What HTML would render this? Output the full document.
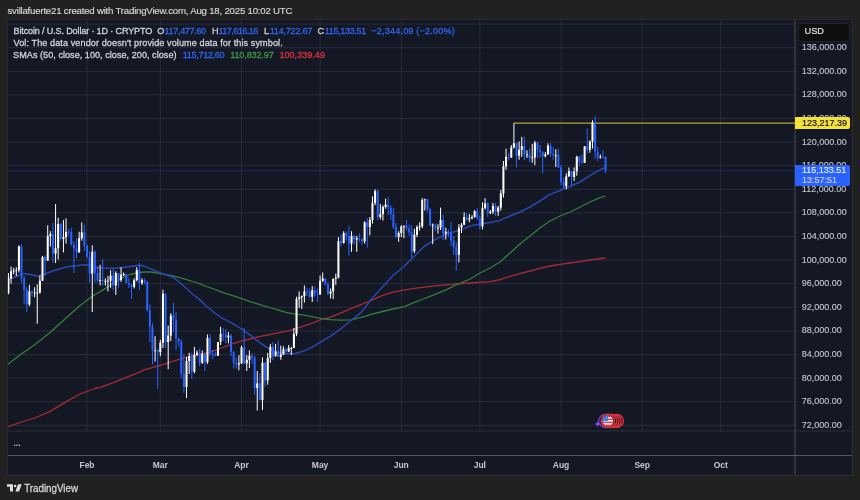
<!DOCTYPE html>
<html><head><meta charset="utf-8"><style>
html,body{margin:0;padding:0;}
body{width:860px;height:500px;background:#212121;position:relative;overflow:hidden;font-family:"Liberation Sans",Arial,sans-serif;color:#d1d4dc;}
.a{position:absolute;white-space:nowrap;}
#hdr{left:8px;top:5px;font-size:9.6px;color:#d6d6d6;}
#panel{position:absolute;left:7.8px;top:19.9px;width:843.9000000000001px;height:455.1px;background:#141824;}
svg{position:absolute;left:0;top:0;}
.lg{position:absolute;left:13.5px;font-size:9px;color:#d1d4dc;}
.pl{position:absolute;left:801.8px;width:50px;font-size:9px;color:#c4c7ce;line-height:12px;-webkit-text-stroke:0.12px #c4c7ce;}
.tl{position:absolute;top:459.3px;width:40px;text-align:center;font-size:8.5px;font-weight:bold;color:#c5c8cf;line-height:12px;}
.bl{color:#2962ff} .gr{color:#43a047} .rd{color:#f23645}
#usd{position:absolute;left:797.5px;top:22.5px;width:52px;height:19px;box-sizing:border-box;background:#0f0f0f;border:1px solid #242424;border-radius:4px;}
#usd span{position:absolute;left:6px;top:1.5px;font-size:9.2px;color:#e0e0e0;line-height:12px;-webkit-text-stroke:0.2px #e0e0e0;}
.tag{position:absolute;left:795px;width:55px;font-size:9px;padding-left:7px;box-sizing:border-box;line-height:11.5px;border-radius:0 2px 2px 0;}
#foot{left:24.3px;top:482.5px;font-size:9.6px;color:#d0d0d0;}
</style></head><body>
<svg width="860" height="500" viewBox="0 0 860 500"><rect x="7" y="19.1" width="846" height="457" rx="1.5" fill="#2a2b2e"/><rect x="7.8" y="19.9" width="843.9" height="455.1" fill="#141824"/></svg>
<svg width="860" height="500" viewBox="0 0 860 500">
<defs><clipPath id="cp"><rect x="7.8" y="19.9" width="787.2" height="411.1"/></clipPath></defs>
<g clip-path="url(#cp)">
<line x1="7.8" x2="795.0" y1="425.3" y2="425.3" stroke="#282c3a" stroke-width="1"/>
<line x1="7.8" x2="795.0" y1="401.7" y2="401.7" stroke="#282c3a" stroke-width="1"/>
<line x1="7.8" x2="795.0" y1="378.1" y2="378.1" stroke="#282c3a" stroke-width="1"/>
<line x1="7.8" x2="795.0" y1="354.5" y2="354.5" stroke="#282c3a" stroke-width="1"/>
<line x1="7.8" x2="795.0" y1="330.9" y2="330.9" stroke="#282c3a" stroke-width="1"/>
<line x1="7.8" x2="795.0" y1="307.3" y2="307.3" stroke="#282c3a" stroke-width="1"/>
<line x1="7.8" x2="795.0" y1="283.7" y2="283.7" stroke="#282c3a" stroke-width="1"/>
<line x1="7.8" x2="795.0" y1="260.1" y2="260.1" stroke="#282c3a" stroke-width="1"/>
<line x1="7.8" x2="795.0" y1="236.5" y2="236.5" stroke="#282c3a" stroke-width="1"/>
<line x1="7.8" x2="795.0" y1="212.9" y2="212.9" stroke="#282c3a" stroke-width="1"/>
<line x1="7.8" x2="795.0" y1="189.3" y2="189.3" stroke="#282c3a" stroke-width="1"/>
<line x1="7.8" x2="795.0" y1="165.7" y2="165.7" stroke="#282c3a" stroke-width="1"/>
<line x1="7.8" x2="795.0" y1="142.1" y2="142.1" stroke="#282c3a" stroke-width="1"/>
<line x1="7.8" x2="795.0" y1="118.5" y2="118.5" stroke="#282c3a" stroke-width="1"/>
<line x1="7.8" x2="795.0" y1="94.9" y2="94.9" stroke="#282c3a" stroke-width="1"/>
<line x1="7.8" x2="795.0" y1="71.3" y2="71.3" stroke="#282c3a" stroke-width="1"/>
<line x1="7.8" x2="795.0" y1="47.7" y2="47.7" stroke="#282c3a" stroke-width="1"/>
<line x1="7.8" x2="795.0" y1="24.1" y2="24.1" stroke="#282c3a" stroke-width="1"/>
<line x1="87" x2="87" y1="19.9" y2="431" stroke="#282c3a" stroke-width="1"/>
<line x1="160.33" x2="160.33" y1="19.9" y2="431" stroke="#282c3a" stroke-width="1"/>
<line x1="241.52" x2="241.52" y1="19.9" y2="431" stroke="#282c3a" stroke-width="1"/>
<line x1="320.09" x2="320.09" y1="19.9" y2="431" stroke="#282c3a" stroke-width="1"/>
<line x1="401.28" x2="401.28" y1="19.9" y2="431" stroke="#282c3a" stroke-width="1"/>
<line x1="479.85" x2="479.85" y1="19.9" y2="431" stroke="#282c3a" stroke-width="1"/>
<line x1="561.04" x2="561.04" y1="19.9" y2="431" stroke="#282c3a" stroke-width="1"/>
<line x1="642.23" x2="642.23" y1="19.9" y2="431" stroke="#282c3a" stroke-width="1"/>
<line x1="720.8" x2="720.8" y1="19.9" y2="431" stroke="#282c3a" stroke-width="1"/>
<polyline points="7.5,427 20,422.5 35,418 50,411.4 65,402.4 80,394 95,388.5 100,387.3 112.8,382.8 125.6,377.7 138.4,372.6 144.8,369.7 151.2,367.9 157.5,366.2 163.9,364.3 170.3,362 176.7,360.1 183.1,358.2 189.5,356.6 195.9,355.1 202.3,353.8 208.7,352.5 214,350.6 223,347.5 232,343.9 241,341.2 250,339 259,336.7 268,334.9 277,333.1 286,331.3 295,329 304,325.9 313,322.8 322,319.2 330,317.4 340.5,313.2 351,308.6 361.5,304.4 372,300.2 382.5,295.3 393,292.2 403.5,290.1 414,288.4 424.5,287.2 435,285.9 445.5,284.8 456,283.8 470,283 490,281.6 500,279.6 510,276.4 520,273.6 530,271 540,268.4 550,266 560,264.4 570,263 580,261.6 590,260 605.6,258" fill="none" stroke="#a82a36" stroke-width="1.3" stroke-linejoin="round"/>
<polyline points="7.5,364.6 20,355 35,344.5 50,332.5 65,319 80,305.5 95,294.5 102,290.6 109,286 115.9,282.2 122.9,277.3 129.9,274.5 136.8,272.9 143.8,272 150.8,272 157.8,273.1 164.7,274.5 171.7,275.6 178.7,277.3 185.7,279.4 192.6,281.5 199.6,283.6 205,286 214,289 223,292.6 232,295.3 241,298.4 250,301.6 259,304.3 268,307 277,309.7 286,312.4 295,314.2 304,315.1 313,316.9 322,318.7 330,319.6 340.5,320.1 351,319.9 361.5,317.4 372,314.2 382.5,311.5 393,309 403.5,306.9 414,302.7 424.5,298.5 435,294.3 445.5,290.1 456,284.8 460,283.3 470,279 480,273 490,268 500,262 510,253 520,244 530,236 540,228 550,221 560,216 570,212 580,207 590,202 600,197.6 605.6,196" fill="none" stroke="#33803a" stroke-width="1.3" stroke-linejoin="round"/>
<polyline points="7.5,279.2 11.7,278.3 16.3,276.5 21,274.2 24.4,273.6 30.3,274.5 36.1,275.7 39.6,275.9 44.2,274.2 53.5,270.7 59.3,269 65.1,267.2 70,266.6 77,265.8 84,264.7 88,264.9 92,266.3 96.6,267.5 104,268.1 112,268.2 123,267.6 130,266.6 136.8,265.5 142.4,265.5 148,267.6 153.6,270.3 160.6,272.9 167.5,275.2 173.1,277.3 178.7,281.5 185.7,287.8 192.6,294 199.6,299.6 205,305 210,309 214,312.5 223,318.7 232,323.2 241,328.6 250,334.9 259,342.1 268,348 277,352 286,353.8 295,353.4 304,351.1 313,346.6 322,341.2 331,335.8 340.5,329 351,320.5 361.5,312.1 372,298.5 382.5,287 393,275.4 403.5,267 414,256.5 424.5,246 435,239.7 445.5,234.5 456,231.3 464,228.6 470,226 480,224 490,222.4 500,220.4 510,216 520,212 530,207 540,201 550,194.4 560,190.5 570,186.5 580,182 590,175.6 597.8,170.9 605.6,167.3" fill="none" stroke="#2848b4" stroke-width="1.5" stroke-linejoin="round"/>
<line x1="513.9" x2="795.0" y1="123.12" y2="123.12" stroke="#b8a336" stroke-width="1.3"/>
<rect x="5.31" y="290.19" width="1" height="12.39" fill="#ffffff"/>
<rect x="4.81" y="293.14" width="2.0" height="5.9" fill="#ffffff"/>
<rect x="7.93" y="273.08" width="1" height="21.24" fill="#ffffff"/>
<rect x="7.43" y="278.39" width="2.0" height="14.75" fill="#ffffff"/>
<rect x="10.55" y="266.59" width="1" height="17.11" fill="#ffffff"/>
<rect x="10.05" y="271.31" width="2.0" height="7.08" fill="#ffffff"/>
<rect x="13.17" y="267.77" width="1" height="6.49" fill="#ffffff"/>
<rect x="12.67" y="270.72" width="2.0" height="0.8" fill="#ffffff"/>
<rect x="15.79" y="267.18" width="1" height="8.85" fill="#ffffff"/>
<rect x="15.29" y="270.13" width="2.0" height="0.8" fill="#ffffff"/>
<rect x="18.41" y="245.35" width="1" height="27.14" fill="#ffffff"/>
<rect x="17.91" y="246.53" width="2.0" height="23.6" fill="#ffffff"/>
<rect x="21.02" y="244.17" width="1" height="38.94" fill="#2962ff"/>
<rect x="20.52" y="246.53" width="2.0" height="31.86" fill="#2962ff"/>
<rect x="23.64" y="276.03" width="1" height="28.32" fill="#2962ff"/>
<rect x="23.14" y="278.39" width="2.0" height="11.21" fill="#2962ff"/>
<rect x="26.26" y="287.24" width="1" height="24.78" fill="#2962ff"/>
<rect x="25.76" y="289.6" width="2.0" height="14.75" fill="#2962ff"/>
<rect x="28.88" y="284.88" width="1" height="21.24" fill="#ffffff"/>
<rect x="28.38" y="291.37" width="2.0" height="12.98" fill="#ffffff"/>
<rect x="31.5" y="290.19" width="1" height="6.49" fill="#2962ff"/>
<rect x="31" y="291.37" width="2.0" height="1.18" fill="#2962ff"/>
<rect x="34.12" y="287.24" width="1" height="10.03" fill="#ffffff"/>
<rect x="33.62" y="292.55" width="2.0" height="0.8" fill="#ffffff"/>
<rect x="36.74" y="284.29" width="1" height="39.53" fill="#ffffff"/>
<rect x="36.24" y="292.55" width="2.0" height="0.8" fill="#ffffff"/>
<rect x="39.36" y="275.44" width="1" height="18.29" fill="#ffffff"/>
<rect x="38.86" y="280.75" width="2.0" height="11.8" fill="#ffffff"/>
<rect x="41.98" y="255.97" width="1" height="24.78" fill="#ffffff"/>
<rect x="41.48" y="257.15" width="2.0" height="23.6" fill="#ffffff"/>
<rect x="44.6" y="255.38" width="1" height="20.65" fill="#2962ff"/>
<rect x="44.1" y="257.15" width="2.0" height="3.54" fill="#2962ff"/>
<rect x="47.21" y="225.29" width="1" height="35.4" fill="#ffffff"/>
<rect x="46.71" y="235.91" width="2.0" height="24.78" fill="#ffffff"/>
<rect x="49.83" y="231.19" width="1" height="15.34" fill="#ffffff"/>
<rect x="49.33" y="234.14" width="2.0" height="1.77" fill="#ffffff"/>
<rect x="52.45" y="222.93" width="1" height="39.53" fill="#2962ff"/>
<rect x="51.95" y="234.14" width="2.0" height="19.47" fill="#2962ff"/>
<rect x="55.07" y="204.05" width="1" height="59" fill="#ffffff"/>
<rect x="54.57" y="248.3" width="2.0" height="5.31" fill="#ffffff"/>
<rect x="57.69" y="217.62" width="1" height="41.89" fill="#ffffff"/>
<rect x="57.19" y="224.11" width="2.0" height="24.19" fill="#ffffff"/>
<rect x="60.31" y="222.93" width="1" height="17.7" fill="#2962ff"/>
<rect x="59.81" y="224.11" width="2.0" height="14.75" fill="#2962ff"/>
<rect x="62.93" y="219.98" width="1" height="32.45" fill="#ffffff"/>
<rect x="62.43" y="237.09" width="2.0" height="1.77" fill="#ffffff"/>
<rect x="65.55" y="218.21" width="1" height="25.37" fill="#ffffff"/>
<rect x="65.05" y="231.78" width="2.0" height="5.31" fill="#ffffff"/>
<rect x="68.17" y="228.83" width="1" height="7.08" fill="#2962ff"/>
<rect x="67.67" y="231.78" width="2.0" height="0.8" fill="#2962ff"/>
<rect x="70.79" y="227.65" width="1" height="17.7" fill="#2962ff"/>
<rect x="70.29" y="232.37" width="2.0" height="12.39" fill="#2962ff"/>
<rect x="73.41" y="241.22" width="1" height="31.86" fill="#2962ff"/>
<rect x="72.91" y="244.76" width="2.0" height="3.54" fill="#2962ff"/>
<rect x="76.02" y="238.27" width="1" height="20.06" fill="#2962ff"/>
<rect x="75.52" y="248.3" width="2.0" height="4.13" fill="#2962ff"/>
<rect x="78.64" y="231.78" width="1" height="20.65" fill="#ffffff"/>
<rect x="78.14" y="238.27" width="2.0" height="14.16" fill="#ffffff"/>
<rect x="81.26" y="222.34" width="1" height="18.29" fill="#ffffff"/>
<rect x="80.76" y="232.37" width="2.0" height="5.9" fill="#ffffff"/>
<rect x="83.88" y="224.7" width="1" height="25.96" fill="#2962ff"/>
<rect x="83.38" y="232.37" width="2.0" height="13.57" fill="#2962ff"/>
<rect x="86.5" y="244.17" width="1" height="14.16" fill="#2962ff"/>
<rect x="86" y="245.94" width="2.0" height="10.62" fill="#2962ff"/>
<rect x="89.12" y="251.25" width="1" height="31.27" fill="#2962ff"/>
<rect x="88.62" y="256.56" width="2.0" height="17.11" fill="#2962ff"/>
<rect x="91.74" y="245.35" width="1" height="66.67" fill="#ffffff"/>
<rect x="91.24" y="251.84" width="2.0" height="21.83" fill="#ffffff"/>
<rect x="94.36" y="250.07" width="1" height="32.45" fill="#2962ff"/>
<rect x="93.86" y="251.84" width="2.0" height="21.24" fill="#2962ff"/>
<rect x="96.98" y="266" width="1" height="16.52" fill="#2962ff"/>
<rect x="96.48" y="273.08" width="2.0" height="7.08" fill="#2962ff"/>
<rect x="99.59" y="264.82" width="1" height="20.65" fill="#ffffff"/>
<rect x="99.09" y="280.16" width="2.0" height="0.8" fill="#ffffff"/>
<rect x="102.21" y="259.51" width="1" height="25.96" fill="#2962ff"/>
<rect x="101.71" y="280.16" width="2.0" height="0.8" fill="#2962ff"/>
<rect x="104.83" y="278.39" width="1" height="7.08" fill="#ffffff"/>
<rect x="104.33" y="280.75" width="2.0" height="0.8" fill="#ffffff"/>
<rect x="107.45" y="276.03" width="1" height="15.34" fill="#ffffff"/>
<rect x="106.95" y="280.75" width="2.0" height="0.8" fill="#ffffff"/>
<rect x="110.07" y="270.13" width="1" height="17.7" fill="#ffffff"/>
<rect x="109.57" y="275.44" width="2.0" height="5.31" fill="#ffffff"/>
<rect x="112.69" y="268.95" width="1" height="21.24" fill="#2962ff"/>
<rect x="112.19" y="275.44" width="2.0" height="10.03" fill="#2962ff"/>
<rect x="115.31" y="271.31" width="1" height="23.6" fill="#ffffff"/>
<rect x="114.81" y="273.08" width="2.0" height="12.39" fill="#ffffff"/>
<rect x="117.93" y="273.08" width="1" height="14.75" fill="#2962ff"/>
<rect x="117.43" y="273.08" width="2.0" height="7.08" fill="#2962ff"/>
<rect x="120.55" y="267.18" width="1" height="14.75" fill="#ffffff"/>
<rect x="120.05" y="274.85" width="2.0" height="5.31" fill="#ffffff"/>
<rect x="123.17" y="272.49" width="1" height="3.54" fill="#ffffff"/>
<rect x="122.67" y="274.26" width="2.0" height="0.8" fill="#ffffff"/>
<rect x="125.78" y="273.67" width="1" height="9.44" fill="#2962ff"/>
<rect x="125.28" y="274.26" width="2.0" height="8.85" fill="#2962ff"/>
<rect x="128.4" y="277.8" width="1" height="10.03" fill="#2962ff"/>
<rect x="127.9" y="283.11" width="2.0" height="1.77" fill="#2962ff"/>
<rect x="131.02" y="283.7" width="1" height="15.34" fill="#2962ff"/>
<rect x="130.52" y="284.88" width="2.0" height="1.77" fill="#2962ff"/>
<rect x="133.64" y="278.39" width="1" height="10.03" fill="#ffffff"/>
<rect x="133.14" y="280.16" width="2.0" height="6.49" fill="#ffffff"/>
<rect x="136.26" y="267.18" width="1" height="14.16" fill="#ffffff"/>
<rect x="135.76" y="270.13" width="2.0" height="10.03" fill="#ffffff"/>
<rect x="138.88" y="263.05" width="1" height="27.14" fill="#2962ff"/>
<rect x="138.38" y="270.13" width="2.0" height="12.98" fill="#2962ff"/>
<rect x="141.5" y="278.39" width="1" height="6.49" fill="#ffffff"/>
<rect x="141" y="280.16" width="2.0" height="2.95" fill="#ffffff"/>
<rect x="144.12" y="278.39" width="1" height="5.9" fill="#2962ff"/>
<rect x="143.62" y="280.16" width="2.0" height="1.77" fill="#2962ff"/>
<rect x="146.74" y="280.75" width="1" height="30.68" fill="#2962ff"/>
<rect x="146.24" y="281.93" width="2.0" height="28.32" fill="#2962ff"/>
<rect x="149.36" y="304.35" width="1" height="37.76" fill="#2962ff"/>
<rect x="148.86" y="310.25" width="2.0" height="16.52" fill="#2962ff"/>
<rect x="151.98" y="323.23" width="1" height="41.3" fill="#2962ff"/>
<rect x="151.48" y="326.77" width="2.0" height="23.6" fill="#2962ff"/>
<rect x="154.59" y="336.21" width="1" height="25.37" fill="#ffffff"/>
<rect x="154.09" y="350.37" width="2.0" height="0.8" fill="#ffffff"/>
<rect x="157.21" y="348.6" width="1" height="40.12" fill="#2962ff"/>
<rect x="156.71" y="350.37" width="2.0" height="1.77" fill="#2962ff"/>
<rect x="159.83" y="339.75" width="1" height="16.52" fill="#ffffff"/>
<rect x="159.33" y="342.7" width="2.0" height="9.44" fill="#ffffff"/>
<rect x="162.45" y="289.6" width="1" height="58.41" fill="#ffffff"/>
<rect x="161.95" y="293.73" width="2.0" height="48.97" fill="#ffffff"/>
<rect x="165.07" y="293.14" width="1" height="54.87" fill="#2962ff"/>
<rect x="164.57" y="293.73" width="2.0" height="48.38" fill="#2962ff"/>
<rect x="167.69" y="325.59" width="1" height="43.66" fill="#ffffff"/>
<rect x="167.19" y="335.62" width="2.0" height="6.49" fill="#ffffff"/>
<rect x="170.31" y="313.2" width="1" height="27.73" fill="#ffffff"/>
<rect x="169.81" y="315.56" width="2.0" height="20.06" fill="#ffffff"/>
<rect x="172.93" y="302.58" width="1" height="29.5" fill="#2962ff"/>
<rect x="172.43" y="315.56" width="2.0" height="4.13" fill="#2962ff"/>
<rect x="175.55" y="312.02" width="1" height="38.35" fill="#2962ff"/>
<rect x="175.05" y="319.69" width="2.0" height="18.88" fill="#2962ff"/>
<rect x="178.17" y="337.98" width="1" height="8.85" fill="#2962ff"/>
<rect x="177.67" y="338.57" width="2.0" height="2.95" fill="#2962ff"/>
<rect x="180.78" y="339.75" width="1" height="38.35" fill="#2962ff"/>
<rect x="180.28" y="341.52" width="2.0" height="32.45" fill="#2962ff"/>
<rect x="183.4" y="354.5" width="1" height="38.35" fill="#2962ff"/>
<rect x="182.9" y="373.97" width="2.0" height="12.98" fill="#2962ff"/>
<rect x="186.02" y="356.86" width="1" height="41.3" fill="#ffffff"/>
<rect x="185.52" y="360.99" width="2.0" height="25.96" fill="#ffffff"/>
<rect x="188.64" y="352.73" width="1" height="21.24" fill="#ffffff"/>
<rect x="188.14" y="356.27" width="2.0" height="4.72" fill="#ffffff"/>
<rect x="191.26" y="352.73" width="1" height="25.96" fill="#2962ff"/>
<rect x="190.76" y="356.27" width="2.0" height="15.34" fill="#2962ff"/>
<rect x="193.88" y="346.83" width="1" height="26.55" fill="#ffffff"/>
<rect x="193.38" y="354.5" width="2.0" height="17.11" fill="#ffffff"/>
<rect x="196.5" y="350.37" width="1" height="5.9" fill="#ffffff"/>
<rect x="196" y="352.73" width="2.0" height="1.77" fill="#ffffff"/>
<rect x="199.12" y="348.6" width="1" height="17.7" fill="#2962ff"/>
<rect x="198.62" y="352.73" width="2.0" height="10.03" fill="#2962ff"/>
<rect x="201.74" y="350.37" width="1" height="13.57" fill="#ffffff"/>
<rect x="201.24" y="353.91" width="2.0" height="8.85" fill="#ffffff"/>
<rect x="204.36" y="353.91" width="1" height="17.11" fill="#2962ff"/>
<rect x="203.86" y="353.91" width="2.0" height="8.26" fill="#2962ff"/>
<rect x="206.97" y="334.44" width="1" height="29.5" fill="#ffffff"/>
<rect x="206.47" y="337.98" width="2.0" height="24.19" fill="#ffffff"/>
<rect x="209.59" y="334.44" width="1" height="21.83" fill="#2962ff"/>
<rect x="209.09" y="337.98" width="2.0" height="15.34" fill="#2962ff"/>
<rect x="212.21" y="349.78" width="1" height="9.44" fill="#2962ff"/>
<rect x="211.71" y="353.32" width="2.0" height="1.18" fill="#2962ff"/>
<rect x="214.83" y="351.55" width="1" height="4.72" fill="#2962ff"/>
<rect x="214.33" y="354.5" width="2.0" height="1.18" fill="#2962ff"/>
<rect x="217.45" y="342.11" width="1" height="13.57" fill="#ffffff"/>
<rect x="216.95" y="342.11" width="2.0" height="13.57" fill="#ffffff"/>
<rect x="220.07" y="326.77" width="1" height="18.29" fill="#ffffff"/>
<rect x="219.57" y="333.85" width="2.0" height="8.26" fill="#ffffff"/>
<rect x="222.69" y="327.95" width="1" height="12.98" fill="#2962ff"/>
<rect x="222.19" y="333.85" width="2.0" height="0.8" fill="#2962ff"/>
<rect x="225.31" y="329.13" width="1" height="14.16" fill="#2962ff"/>
<rect x="224.81" y="334.44" width="2.0" height="2.95" fill="#2962ff"/>
<rect x="227.93" y="332.08" width="1" height="11.21" fill="#ffffff"/>
<rect x="227.43" y="335.62" width="2.0" height="1.77" fill="#ffffff"/>
<rect x="230.55" y="333.85" width="1" height="22.42" fill="#2962ff"/>
<rect x="230.05" y="335.62" width="2.0" height="16.52" fill="#2962ff"/>
<rect x="233.16" y="350.96" width="1" height="17.7" fill="#2962ff"/>
<rect x="232.66" y="352.14" width="2.0" height="10.62" fill="#2962ff"/>
<rect x="235.78" y="357.45" width="1" height="11.21" fill="#2962ff"/>
<rect x="235.28" y="362.76" width="2.0" height="1.77" fill="#2962ff"/>
<rect x="238.4" y="355.09" width="1" height="15.34" fill="#ffffff"/>
<rect x="237.9" y="363.35" width="2.0" height="1.18" fill="#ffffff"/>
<rect x="241.02" y="345.65" width="1" height="18.29" fill="#ffffff"/>
<rect x="240.52" y="347.42" width="2.0" height="15.93" fill="#ffffff"/>
<rect x="243.64" y="327.95" width="1" height="36.58" fill="#2962ff"/>
<rect x="243.14" y="347.42" width="2.0" height="15.93" fill="#2962ff"/>
<rect x="246.26" y="355.09" width="1" height="15.93" fill="#ffffff"/>
<rect x="245.76" y="359.81" width="2.0" height="3.54" fill="#ffffff"/>
<rect x="248.88" y="350.37" width="1" height="17.7" fill="#ffffff"/>
<rect x="248.38" y="355.68" width="2.0" height="4.13" fill="#ffffff"/>
<rect x="251.5" y="353.32" width="1" height="10.62" fill="#2962ff"/>
<rect x="251" y="355.68" width="2.0" height="1.77" fill="#2962ff"/>
<rect x="254.12" y="355.68" width="1" height="38.94" fill="#2962ff"/>
<rect x="253.62" y="357.45" width="2.0" height="30.68" fill="#2962ff"/>
<rect x="256.74" y="371.02" width="1" height="39.53" fill="#ffffff"/>
<rect x="256.24" y="383.41" width="2.0" height="4.72" fill="#ffffff"/>
<rect x="259.35" y="373.38" width="1" height="27.14" fill="#2962ff"/>
<rect x="258.85" y="383.41" width="2.0" height="16.52" fill="#2962ff"/>
<rect x="261.97" y="357.45" width="1" height="52.51" fill="#ffffff"/>
<rect x="261.47" y="362.76" width="2.0" height="37.17" fill="#ffffff"/>
<rect x="264.59" y="362.17" width="1" height="24.78" fill="#2962ff"/>
<rect x="264.09" y="362.76" width="2.0" height="17.7" fill="#2962ff"/>
<rect x="267.21" y="352.73" width="1" height="31.86" fill="#ffffff"/>
<rect x="266.71" y="358.04" width="2.0" height="22.42" fill="#ffffff"/>
<rect x="269.83" y="343.88" width="1" height="18.88" fill="#ffffff"/>
<rect x="269.33" y="346.83" width="2.0" height="11.21" fill="#ffffff"/>
<rect x="272.45" y="342.11" width="1" height="18.29" fill="#2962ff"/>
<rect x="271.95" y="346.83" width="2.0" height="9.44" fill="#2962ff"/>
<rect x="275.07" y="343.88" width="1" height="12.39" fill="#ffffff"/>
<rect x="274.57" y="351.55" width="2.0" height="4.72" fill="#ffffff"/>
<rect x="277.69" y="340.34" width="1" height="16.52" fill="#2962ff"/>
<rect x="277.19" y="351.55" width="2.0" height="5.31" fill="#2962ff"/>
<rect x="280.31" y="345.65" width="1" height="14.16" fill="#ffffff"/>
<rect x="279.81" y="354.5" width="2.0" height="2.36" fill="#ffffff"/>
<rect x="282.93" y="346.24" width="1" height="8.85" fill="#ffffff"/>
<rect x="282.43" y="349.19" width="2.0" height="5.31" fill="#ffffff"/>
<rect x="285.54" y="348.01" width="1" height="4.72" fill="#2962ff"/>
<rect x="285.04" y="349.19" width="2.0" height="2.36" fill="#2962ff"/>
<rect x="288.16" y="345.06" width="1" height="7.08" fill="#ffffff"/>
<rect x="287.66" y="348.01" width="2.0" height="3.54" fill="#ffffff"/>
<rect x="290.78" y="346.83" width="1" height="8.26" fill="#ffffff"/>
<rect x="290.28" y="348.01" width="2.0" height="0.8" fill="#ffffff"/>
<rect x="293.4" y="327.95" width="1" height="20.06" fill="#ffffff"/>
<rect x="292.9" y="333.85" width="2.0" height="14.16" fill="#ffffff"/>
<rect x="296.02" y="296.68" width="1" height="39.53" fill="#ffffff"/>
<rect x="295.52" y="299.04" width="2.0" height="34.81" fill="#ffffff"/>
<rect x="298.64" y="291.37" width="1" height="16.52" fill="#ffffff"/>
<rect x="298.14" y="297.27" width="2.0" height="1.77" fill="#ffffff"/>
<rect x="301.26" y="295.5" width="1" height="13.57" fill="#ffffff"/>
<rect x="300.76" y="296.09" width="2.0" height="1.18" fill="#ffffff"/>
<rect x="303.88" y="285.47" width="1" height="17.11" fill="#ffffff"/>
<rect x="303.38" y="291.37" width="2.0" height="4.72" fill="#ffffff"/>
<rect x="306.5" y="287.83" width="1" height="8.26" fill="#2962ff"/>
<rect x="306" y="291.37" width="2.0" height="0.8" fill="#2962ff"/>
<rect x="309.12" y="288.42" width="1" height="9.44" fill="#2962ff"/>
<rect x="308.62" y="291.96" width="2.0" height="4.72" fill="#2962ff"/>
<rect x="311.73" y="286.06" width="1" height="15.93" fill="#ffffff"/>
<rect x="311.23" y="290.19" width="2.0" height="6.49" fill="#ffffff"/>
<rect x="314.35" y="286.65" width="1" height="10.03" fill="#2962ff"/>
<rect x="313.85" y="290.19" width="2.0" height="3.54" fill="#2962ff"/>
<rect x="316.97" y="288.42" width="1" height="13.57" fill="#2962ff"/>
<rect x="316.47" y="293.73" width="2.0" height="0.8" fill="#2962ff"/>
<rect x="319.59" y="275.44" width="1" height="19.47" fill="#ffffff"/>
<rect x="319.09" y="280.75" width="2.0" height="13.57" fill="#ffffff"/>
<rect x="322.21" y="272.49" width="1" height="9.44" fill="#ffffff"/>
<rect x="321.71" y="278.39" width="2.0" height="2.36" fill="#ffffff"/>
<rect x="324.83" y="278.39" width="1" height="7.08" fill="#2962ff"/>
<rect x="324.33" y="278.39" width="2.0" height="5.9" fill="#2962ff"/>
<rect x="327.45" y="281.93" width="1" height="12.98" fill="#2962ff"/>
<rect x="326.95" y="284.29" width="2.0" height="9.44" fill="#2962ff"/>
<rect x="330.07" y="288.42" width="1" height="10.03" fill="#ffffff"/>
<rect x="329.57" y="291.37" width="2.0" height="2.36" fill="#ffffff"/>
<rect x="332.69" y="278.39" width="1" height="20.65" fill="#ffffff"/>
<rect x="332.19" y="278.98" width="2.0" height="12.39" fill="#ffffff"/>
<rect x="335.31" y="273.67" width="1" height="11.21" fill="#ffffff"/>
<rect x="334.81" y="277.8" width="2.0" height="1.18" fill="#ffffff"/>
<rect x="337.92" y="237.09" width="1" height="41.3" fill="#ffffff"/>
<rect x="337.42" y="241.22" width="2.0" height="36.58" fill="#ffffff"/>
<rect x="340.54" y="234.73" width="1" height="11.8" fill="#2962ff"/>
<rect x="340.04" y="241.22" width="2.0" height="1.77" fill="#2962ff"/>
<rect x="343.16" y="231.19" width="1" height="12.39" fill="#ffffff"/>
<rect x="342.66" y="232.96" width="2.0" height="10.03" fill="#ffffff"/>
<rect x="345.78" y="231.19" width="1" height="9.44" fill="#2962ff"/>
<rect x="345.28" y="232.96" width="2.0" height="2.95" fill="#2962ff"/>
<rect x="348.4" y="225.88" width="1" height="29.5" fill="#2962ff"/>
<rect x="347.9" y="235.91" width="2.0" height="7.67" fill="#2962ff"/>
<rect x="351.02" y="231.19" width="1" height="20.65" fill="#ffffff"/>
<rect x="350.52" y="235.91" width="2.0" height="7.67" fill="#ffffff"/>
<rect x="353.64" y="234.73" width="1" height="10.03" fill="#2962ff"/>
<rect x="353.14" y="235.91" width="2.0" height="3.54" fill="#2962ff"/>
<rect x="356.26" y="235.91" width="1" height="15.93" fill="#ffffff"/>
<rect x="355.76" y="238.27" width="2.0" height="1.18" fill="#ffffff"/>
<rect x="358.88" y="233.55" width="1" height="8.26" fill="#2962ff"/>
<rect x="358.38" y="238.27" width="2.0" height="1.18" fill="#2962ff"/>
<rect x="361.5" y="238.27" width="1" height="6.49" fill="#2962ff"/>
<rect x="361" y="239.45" width="2.0" height="1.77" fill="#2962ff"/>
<rect x="364.11" y="221.16" width="1" height="22.42" fill="#ffffff"/>
<rect x="363.61" y="222.34" width="2.0" height="18.88" fill="#ffffff"/>
<rect x="366.73" y="218.21" width="1" height="29.5" fill="#2962ff"/>
<rect x="366.23" y="222.34" width="2.0" height="4.72" fill="#2962ff"/>
<rect x="369.35" y="217.03" width="1" height="18.29" fill="#ffffff"/>
<rect x="368.85" y="219.98" width="2.0" height="7.08" fill="#ffffff"/>
<rect x="371.97" y="196.38" width="1" height="27.14" fill="#ffffff"/>
<rect x="371.47" y="202.87" width="2.0" height="17.11" fill="#ffffff"/>
<rect x="374.59" y="189.3" width="1" height="15.93" fill="#ffffff"/>
<rect x="374.09" y="191.07" width="2.0" height="11.8" fill="#ffffff"/>
<rect x="377.21" y="189.89" width="1" height="30.09" fill="#2962ff"/>
<rect x="376.71" y="191.07" width="2.0" height="25.96" fill="#2962ff"/>
<rect x="379.83" y="204.05" width="1" height="15.34" fill="#ffffff"/>
<rect x="379.33" y="214.08" width="2.0" height="2.95" fill="#ffffff"/>
<rect x="382.45" y="205.23" width="1" height="15.34" fill="#ffffff"/>
<rect x="381.95" y="207" width="2.0" height="7.08" fill="#ffffff"/>
<rect x="385.07" y="198.74" width="1" height="10.03" fill="#ffffff"/>
<rect x="384.57" y="204.64" width="2.0" height="2.36" fill="#ffffff"/>
<rect x="387.69" y="196.97" width="1" height="18.29" fill="#2962ff"/>
<rect x="387.19" y="204.64" width="2.0" height="2.95" fill="#2962ff"/>
<rect x="390.3" y="205.23" width="1" height="14.75" fill="#2962ff"/>
<rect x="389.8" y="207.59" width="2.0" height="6.49" fill="#2962ff"/>
<rect x="392.92" y="207.59" width="1" height="21.24" fill="#2962ff"/>
<rect x="392.42" y="214.08" width="2.0" height="12.98" fill="#2962ff"/>
<rect x="395.54" y="222.93" width="1" height="15.34" fill="#2962ff"/>
<rect x="395.04" y="227.06" width="2.0" height="10.03" fill="#2962ff"/>
<rect x="398.16" y="231.19" width="1" height="10.62" fill="#ffffff"/>
<rect x="397.66" y="232.96" width="2.0" height="4.13" fill="#ffffff"/>
<rect x="400.78" y="225.29" width="1" height="11.8" fill="#ffffff"/>
<rect x="400.28" y="226.47" width="2.0" height="6.49" fill="#ffffff"/>
<rect x="403.4" y="225.29" width="1" height="12.98" fill="#ffffff"/>
<rect x="402.9" y="225.88" width="2.0" height="0.8" fill="#ffffff"/>
<rect x="406.02" y="219.98" width="1" height="10.62" fill="#2962ff"/>
<rect x="405.52" y="225.88" width="2.0" height="2.36" fill="#2962ff"/>
<rect x="408.64" y="224.7" width="1" height="11.21" fill="#2962ff"/>
<rect x="408.14" y="228.24" width="2.0" height="4.13" fill="#2962ff"/>
<rect x="411.26" y="225.29" width="1" height="32.45" fill="#2962ff"/>
<rect x="410.76" y="232.37" width="2.0" height="18.88" fill="#2962ff"/>
<rect x="413.88" y="228.83" width="1" height="24.19" fill="#ffffff"/>
<rect x="413.38" y="234.73" width="2.0" height="16.52" fill="#ffffff"/>
<rect x="416.49" y="225.29" width="1" height="11.8" fill="#ffffff"/>
<rect x="415.99" y="227.06" width="2.0" height="7.67" fill="#ffffff"/>
<rect x="419.11" y="222.34" width="1" height="8.26" fill="#ffffff"/>
<rect x="418.61" y="226.47" width="2.0" height="0.8" fill="#ffffff"/>
<rect x="421.73" y="198.15" width="1" height="30.09" fill="#ffffff"/>
<rect x="421.23" y="199.92" width="2.0" height="26.55" fill="#ffffff"/>
<rect x="424.35" y="198.74" width="1" height="11.8" fill="#ffffff"/>
<rect x="423.85" y="199.33" width="2.0" height="0.8" fill="#ffffff"/>
<rect x="426.97" y="198.74" width="1" height="13.57" fill="#2962ff"/>
<rect x="426.47" y="199.33" width="2.0" height="10.03" fill="#2962ff"/>
<rect x="429.59" y="208.18" width="1" height="18.29" fill="#2962ff"/>
<rect x="429.09" y="209.36" width="2.0" height="15.93" fill="#2962ff"/>
<rect x="432.21" y="223.52" width="1" height="20.65" fill="#ffffff"/>
<rect x="431.71" y="224.7" width="2.0" height="0.8" fill="#ffffff"/>
<rect x="434.83" y="223.52" width="1" height="7.67" fill="#2962ff"/>
<rect x="434.33" y="224.7" width="2.0" height="3.54" fill="#2962ff"/>
<rect x="437.45" y="224.11" width="1" height="9.44" fill="#ffffff"/>
<rect x="436.95" y="227.65" width="2.0" height="0.8" fill="#ffffff"/>
<rect x="440.07" y="207.59" width="1" height="22.42" fill="#ffffff"/>
<rect x="439.57" y="219.98" width="2.0" height="7.67" fill="#ffffff"/>
<rect x="442.68" y="214.67" width="1" height="25.37" fill="#2962ff"/>
<rect x="442.18" y="219.98" width="2.0" height="13.57" fill="#2962ff"/>
<rect x="445.3" y="227.65" width="1" height="11.8" fill="#ffffff"/>
<rect x="444.8" y="231.78" width="2.0" height="1.77" fill="#ffffff"/>
<rect x="447.92" y="229.42" width="1" height="7.67" fill="#2962ff"/>
<rect x="447.42" y="231.78" width="2.0" height="1.18" fill="#2962ff"/>
<rect x="450.54" y="221.75" width="1" height="24.19" fill="#2962ff"/>
<rect x="450.04" y="232.96" width="2.0" height="7.67" fill="#2962ff"/>
<rect x="453.16" y="236.5" width="1" height="18.29" fill="#2962ff"/>
<rect x="452.66" y="240.63" width="2.0" height="6.49" fill="#2962ff"/>
<rect x="455.78" y="242.4" width="1" height="28.32" fill="#2962ff"/>
<rect x="455.28" y="247.12" width="2.0" height="7.67" fill="#2962ff"/>
<rect x="458.4" y="224.11" width="1" height="38.35" fill="#ffffff"/>
<rect x="457.9" y="227.65" width="2.0" height="27.14" fill="#ffffff"/>
<rect x="461.02" y="222.93" width="1" height="10.03" fill="#ffffff"/>
<rect x="460.52" y="224.7" width="2.0" height="2.95" fill="#ffffff"/>
<rect x="463.64" y="212.31" width="1" height="12.98" fill="#ffffff"/>
<rect x="463.14" y="217.03" width="2.0" height="7.67" fill="#ffffff"/>
<rect x="466.26" y="212.9" width="1" height="8.26" fill="#2962ff"/>
<rect x="465.76" y="217.03" width="2.0" height="2.36" fill="#2962ff"/>
<rect x="468.87" y="214.08" width="1" height="8.26" fill="#ffffff"/>
<rect x="468.37" y="218.21" width="2.0" height="1.18" fill="#ffffff"/>
<rect x="471.49" y="215.26" width="1" height="4.13" fill="#ffffff"/>
<rect x="470.99" y="217.03" width="2.0" height="1.18" fill="#ffffff"/>
<rect x="474.11" y="209.95" width="1" height="7.67" fill="#ffffff"/>
<rect x="473.61" y="211.13" width="2.0" height="5.9" fill="#ffffff"/>
<rect x="476.73" y="208.18" width="1" height="11.8" fill="#2962ff"/>
<rect x="476.23" y="211.13" width="2.0" height="7.08" fill="#2962ff"/>
<rect x="479.35" y="215.85" width="1" height="13.57" fill="#2962ff"/>
<rect x="478.85" y="218.21" width="2.0" height="8.26" fill="#2962ff"/>
<rect x="481.97" y="202.28" width="1" height="27.14" fill="#ffffff"/>
<rect x="481.47" y="208.18" width="2.0" height="18.29" fill="#ffffff"/>
<rect x="484.59" y="198.15" width="1" height="11.21" fill="#ffffff"/>
<rect x="484.09" y="203.46" width="2.0" height="4.72" fill="#ffffff"/>
<rect x="487.21" y="202.28" width="1" height="14.75" fill="#2962ff"/>
<rect x="486.71" y="203.46" width="2.0" height="9.44" fill="#2962ff"/>
<rect x="489.83" y="209.95" width="1" height="4.13" fill="#ffffff"/>
<rect x="489.33" y="211.72" width="2.0" height="1.18" fill="#ffffff"/>
<rect x="492.45" y="202.87" width="1" height="11.21" fill="#ffffff"/>
<rect x="491.95" y="205.82" width="2.0" height="5.9" fill="#ffffff"/>
<rect x="495.06" y="202.87" width="1" height="12.98" fill="#2962ff"/>
<rect x="494.56" y="205.82" width="2.0" height="5.9" fill="#2962ff"/>
<rect x="497.68" y="205.82" width="1" height="10.03" fill="#ffffff"/>
<rect x="497.18" y="207.59" width="2.0" height="4.13" fill="#ffffff"/>
<rect x="500.3" y="189.89" width="1" height="20.65" fill="#ffffff"/>
<rect x="499.8" y="193.43" width="2.0" height="14.16" fill="#ffffff"/>
<rect x="502.92" y="160.98" width="1" height="36.58" fill="#ffffff"/>
<rect x="502.42" y="166.29" width="2.0" height="27.14" fill="#ffffff"/>
<rect x="505.54" y="148.59" width="1" height="21.24" fill="#ffffff"/>
<rect x="505.04" y="156.85" width="2.0" height="9.44" fill="#ffffff"/>
<rect x="508.16" y="152.72" width="1" height="7.67" fill="#2962ff"/>
<rect x="507.66" y="156.85" width="2.0" height="0.8" fill="#2962ff"/>
<rect x="510.78" y="145.05" width="1" height="12.98" fill="#ffffff"/>
<rect x="510.28" y="147.41" width="2.0" height="10.03" fill="#ffffff"/>
<rect x="513.4" y="123.22" width="1" height="25.37" fill="#ffffff"/>
<rect x="512.9" y="143.28" width="2.0" height="4.13" fill="#ffffff"/>
<rect x="516.02" y="142.69" width="1" height="24.78" fill="#2962ff"/>
<rect x="515.52" y="143.28" width="2.0" height="12.39" fill="#2962ff"/>
<rect x="518.63" y="141.51" width="1" height="18.29" fill="#ffffff"/>
<rect x="518.13" y="149.77" width="2.0" height="5.9" fill="#ffffff"/>
<rect x="521.25" y="136.79" width="1" height="20.06" fill="#ffffff"/>
<rect x="520.75" y="146.23" width="2.0" height="3.54" fill="#ffffff"/>
<rect x="523.87" y="136.79" width="1" height="23.6" fill="#2962ff"/>
<rect x="523.37" y="146.23" width="2.0" height="8.26" fill="#2962ff"/>
<rect x="526.49" y="150.36" width="1" height="7.67" fill="#ffffff"/>
<rect x="525.99" y="154.49" width="2.0" height="0.8" fill="#ffffff"/>
<rect x="529.11" y="148.59" width="1" height="13.57" fill="#2962ff"/>
<rect x="528.61" y="154.49" width="2.0" height="3.54" fill="#2962ff"/>
<rect x="531.73" y="143.87" width="1" height="18.88" fill="#ffffff"/>
<rect x="531.23" y="157.44" width="2.0" height="0.8" fill="#ffffff"/>
<rect x="534.35" y="140.92" width="1" height="24.19" fill="#ffffff"/>
<rect x="533.85" y="142.69" width="2.0" height="14.75" fill="#ffffff"/>
<rect x="536.97" y="142.1" width="1" height="15.93" fill="#2962ff"/>
<rect x="536.47" y="142.69" width="2.0" height="7.67" fill="#2962ff"/>
<rect x="539.59" y="145.05" width="1" height="12.39" fill="#2962ff"/>
<rect x="539.09" y="150.36" width="2.0" height="1.77" fill="#2962ff"/>
<rect x="542.21" y="150.95" width="1" height="22.42" fill="#2962ff"/>
<rect x="541.71" y="152.13" width="2.0" height="4.13" fill="#2962ff"/>
<rect x="544.83" y="152.13" width="1" height="5.31" fill="#ffffff"/>
<rect x="544.33" y="154.49" width="2.0" height="1.77" fill="#ffffff"/>
<rect x="547.44" y="143.28" width="1" height="11.21" fill="#ffffff"/>
<rect x="546.94" y="145.64" width="2.0" height="8.85" fill="#ffffff"/>
<rect x="550.06" y="143.28" width="1" height="13.57" fill="#2962ff"/>
<rect x="549.56" y="145.64" width="2.0" height="8.26" fill="#2962ff"/>
<rect x="552.68" y="146.82" width="1" height="12.98" fill="#2962ff"/>
<rect x="552.18" y="153.9" width="2.0" height="1.18" fill="#2962ff"/>
<rect x="555.3" y="149.18" width="1" height="17.7" fill="#ffffff"/>
<rect x="554.8" y="155.08" width="2.0" height="0.8" fill="#ffffff"/>
<rect x="557.92" y="148.59" width="1" height="19.47" fill="#2962ff"/>
<rect x="557.42" y="155.08" width="2.0" height="12.39" fill="#2962ff"/>
<rect x="560.54" y="165.11" width="1" height="20.06" fill="#2962ff"/>
<rect x="560.04" y="167.47" width="2.0" height="14.16" fill="#2962ff"/>
<rect x="563.16" y="177.5" width="1" height="11.21" fill="#2962ff"/>
<rect x="562.66" y="181.63" width="2.0" height="4.72" fill="#2962ff"/>
<rect x="565.78" y="173.37" width="1" height="15.93" fill="#ffffff"/>
<rect x="565.28" y="176.32" width="2.0" height="10.03" fill="#ffffff"/>
<rect x="568.4" y="167.47" width="1" height="9.44" fill="#ffffff"/>
<rect x="567.9" y="171.01" width="2.0" height="5.31" fill="#ffffff"/>
<rect x="571.02" y="171.01" width="1" height="14.16" fill="#2962ff"/>
<rect x="570.52" y="171.01" width="2.0" height="5.9" fill="#2962ff"/>
<rect x="573.63" y="167.47" width="1" height="13.57" fill="#ffffff"/>
<rect x="573.13" y="171.6" width="2.0" height="5.31" fill="#ffffff"/>
<rect x="576.25" y="155.67" width="1" height="20.06" fill="#ffffff"/>
<rect x="575.75" y="156.85" width="2.0" height="14.75" fill="#ffffff"/>
<rect x="578.87" y="155.67" width="1" height="10.62" fill="#2962ff"/>
<rect x="578.37" y="156.85" width="2.0" height="4.72" fill="#2962ff"/>
<rect x="581.49" y="154.49" width="1" height="9.44" fill="#2962ff"/>
<rect x="580.99" y="161.57" width="2.0" height="1.18" fill="#2962ff"/>
<rect x="584.11" y="146.23" width="1" height="16.52" fill="#ffffff"/>
<rect x="583.61" y="146.23" width="2.0" height="16.52" fill="#ffffff"/>
<rect x="586.73" y="128.53" width="1" height="24.78" fill="#2962ff"/>
<rect x="586.23" y="146.23" width="2.0" height="3.54" fill="#2962ff"/>
<rect x="589.35" y="140.33" width="1" height="12.39" fill="#ffffff"/>
<rect x="588.85" y="141.51" width="2.0" height="8.26" fill="#ffffff"/>
<rect x="591.97" y="120.27" width="1" height="28.32" fill="#ffffff"/>
<rect x="591.47" y="122.63" width="2.0" height="18.88" fill="#ffffff"/>
<rect x="594.59" y="116.14" width="1" height="42.48" fill="#2962ff"/>
<rect x="594.09" y="122.63" width="2.0" height="28.91" fill="#2962ff"/>
<rect x="597.21" y="146.82" width="1" height="14.16" fill="#2962ff"/>
<rect x="596.71" y="151.54" width="2.0" height="5.9" fill="#2962ff"/>
<rect x="599.82" y="154.49" width="1" height="4.13" fill="#ffffff"/>
<rect x="599.32" y="156.85" width="2.0" height="0.8" fill="#ffffff"/>
<rect x="602.44" y="150.36" width="1" height="8.26" fill="#2962ff"/>
<rect x="601.94" y="156.85" width="2.0" height="0.8" fill="#2962ff"/>
<rect x="605.06" y="156.16" width="1" height="17.07" fill="#2962ff"/>
<rect x="604.56" y="156.98" width="2.0" height="13.83" fill="#2962ff"/>
<line x1="7.8" x2="795.0" y1="170.81" y2="170.81" stroke="#2a5ae8" stroke-width="1" stroke-dasharray="1 1" opacity="0.55"/>
<circle cx="605.2" cy="421" r="6.5" fill="none" stroke="#7b3fd6" stroke-width="1.3"/>
<circle cx="616.8" cy="420.9" r="6.6" fill="#2a1a22" stroke="#e0313f" stroke-width="1.3"/>
<circle cx="614.5" cy="420.9" r="6.6" fill="#2a1a22" stroke="#e0313f" stroke-width="1.3"/>
<circle cx="612.3" cy="420.9" r="6.6" fill="#2a1a22" stroke="#e0313f" stroke-width="1.3"/>
<circle cx="610.1" cy="420.9" r="6.6" fill="#2a1a22" stroke="#e0313f" stroke-width="1.3"/>
<circle cx="607.8" cy="420.9" r="6.6" fill="#1c1416" stroke="#e0313f" stroke-width="1.4"/>
<clipPath id="fl"><circle cx="607.8" cy="420.9" r="5.3"/></clipPath>
<g clip-path="url(#fl)"><rect x="602" y="415" width="12" height="12" fill="#f4f4f4"/><rect x="602" y="415.6" width="12" height="1.5" fill="#e8434f"/><rect x="602" y="418.6" width="12" height="1.5" fill="#e8434f"/><rect x="602" y="421.6" width="12" height="1.5" fill="#e8434f"/><rect x="602" y="424.6" width="12" height="1.5" fill="#e8434f"/><rect x="602" y="415" width="6.2" height="6" fill="#3d7fe6"/></g>
<path d="M597.5 420.6 L598.3 423.2 L600.9 424 L598.3 424.8 L597.5 427.4 L596.7 424.8 L594.1 424 L596.7 423.2Z" fill="#8a4dff"/>
</g>
<line x1="7.8" x2="851.7" y1="431" y2="431" stroke="#2a2e39" stroke-width="1"/>
<line x1="795.0" x2="795.0" y1="19.9" y2="475" stroke="#4c4e54" stroke-width="1"/>
<line x1="7.8" x2="851.7" y1="455.5" y2="455.5" stroke="#55575d" stroke-width="1"/>
</svg>
<svg width="860" height="70" style="left:0;top:0" viewBox="0 0 860 70" font-family="Liberation Sans, Arial, sans-serif"><text x="7.5" y="14.4" font-size="9.7" fill="#d8d8d8" textLength="285" lengthAdjust="spacing" stroke="#d8d8d8" stroke-width="0.15">svillafuerte21 created with TradingView.com, Aug 18, 2025 10:02 UTC</text><text x="13.5" y="33.9" font-size="9.1" fill="#d1d4dc" textLength="138.8" lengthAdjust="spacing" stroke="#d1d4dc" stroke-width="0.28">Bitcoin / U.S. Dollar · 1D · CRYPTO</text><text x="157.29999999999998" y="33.9" font-size="9.1" fill="#d1d4dc" textLength="6.7" lengthAdjust="spacing" stroke="#d1d4dc" stroke-width="0.28">O</text><text x="164.6" y="33.9" font-size="9.1" fill="#2f66f0" textLength="41.5" lengthAdjust="spacing" stroke="#2f66f0" stroke-width="0.28">117,477.60</text><text x="212.0" y="33.9" font-size="9.1" fill="#d1d4dc" textLength="6.3" lengthAdjust="spacing" stroke="#d1d4dc" stroke-width="0.28">H</text><text x="218.5" y="33.9" font-size="9.1" fill="#2f66f0" textLength="39.7" lengthAdjust="spacing" stroke="#2f66f0" stroke-width="0.28">117,616.16</text><text x="264.09999999999997" y="33.9" font-size="9.1" fill="#d1d4dc" textLength="5.4" lengthAdjust="spacing" stroke="#d1d4dc" stroke-width="0.28">L</text><text x="269.7" y="33.9" font-size="9.1" fill="#2f66f0" textLength="42.7" lengthAdjust="spacing" stroke="#2f66f0" stroke-width="0.28">114,722.67</text><text x="317.4" y="33.9" font-size="9.1" fill="#d1d4dc" textLength="7.1" lengthAdjust="spacing" stroke="#d1d4dc" stroke-width="0.28">C</text><text x="324.8" y="33.9" font-size="9.1" fill="#2f66f0" textLength="41.5" lengthAdjust="spacing" stroke="#2f66f0" stroke-width="0.28">115,133.51</text><text x="371.3" y="33.9" font-size="9.1" fill="#2f66f0" textLength="83.4" lengthAdjust="spacing" stroke="#2f66f0" stroke-width="0.28">−2,344.09 (−2.00%)</text><text x="13.5" y="46.0" font-size="9.1" fill="#d1d4dc" textLength="269.2" lengthAdjust="spacing" stroke="#d1d4dc" stroke-width="0.28">Vol: The data vendor doesn&#39;t provide volume data for this symbol.</text><text x="13.1" y="57.8" font-size="9.1" fill="#d1d4dc" textLength="163.4" lengthAdjust="spacing" stroke="#d1d4dc" stroke-width="0.28">SMAs (50, close, 100, close, 200, close)</text><text x="182.79999999999998" y="57.8" font-size="9.1" fill="#2f66f0" textLength="41.8" lengthAdjust="spacing" stroke="#2f66f0" stroke-width="0.28">115,712.60</text><text x="230.2" y="57.8" font-size="9.1" fill="#3d9a44" textLength="43.5" lengthAdjust="spacing" stroke="#3d9a44" stroke-width="0.28">110,832.97</text><text x="279.4" y="57.8" font-size="9.1" fill="#e0303f" textLength="45.6" lengthAdjust="spacing" stroke="#e0303f" stroke-width="0.28">100,339.49</text></svg>
<div id="usd"><span>USD</span></div>
<div class="pl" style="top:418.7px">72,000.00</div>
<div class="pl" style="top:395.1px">76,000.00</div>
<div class="pl" style="top:371.5px">80,000.00</div>
<div class="pl" style="top:347.9px">84,000.00</div>
<div class="pl" style="top:324.3px">88,000.00</div>
<div class="pl" style="top:300.7px">92,000.00</div>
<div class="pl" style="top:277.1px">96,000.00</div>
<div class="pl" style="top:253.5px">100,000.00</div>
<div class="pl" style="top:229.9px">104,000.00</div>
<div class="pl" style="top:206.3px">108,000.00</div>
<div class="pl" style="top:182.7px">112,000.00</div>
<div class="pl" style="top:159.1px">116,000.00</div>
<div class="pl" style="top:135.5px">120,000.00</div>
<div class="pl" style="top:111.9px">124,000.00</div>
<div class="pl" style="top:88.3px">128,000.00</div>
<div class="pl" style="top:64.7px">132,000.00</div>
<div class="pl" style="top:41.1px">136,000.00</div>
<div class="tag" style="top:117.2px;height:12px;background:#f5e13a;color:#131722;line-height:12px;-webkit-text-stroke:0.2px #131722;">123,217.39</div>
<div class="tag" style="top:165.2px;height:20.5px;background:#2962ff;color:#eef2ff;line-height:9.6px;padding-top:1px;-webkit-text-stroke:0.1px #eef2ff;">115,133.51<br><span style="opacity:0.8">13:57:51</span></div>
<div class="tl" style="left:67px">Feb</div>
<div class="tl" style="left:140.33px">Mar</div>
<div class="tl" style="left:221.52px">Apr</div>
<div class="tl" style="left:300.09px">May</div>
<div class="tl" style="left:381.28px">Jun</div>
<div class="tl" style="left:459.85px">Jul</div>
<div class="tl" style="left:541.04px">Aug</div>
<div class="tl" style="left:622.23px">Sep</div>
<div class="tl" style="left:700.8px">Oct</div>
<svg width="30" height="12" style="left:0;top:438px" viewBox="0 438 30 12"><text x="13.4" y="446" font-family="Liberation Sans, Arial, sans-serif" font-size="8.5" font-weight="bold" fill="#cfd2d8" textLength="7.1" lengthAdjust="spacing">...</text></svg>
<svg width="30" height="20" style="left:0;top:476px" viewBox="0 476 30 20">
<path d="M7 484.2H13V491.6H10V486.8H7Z" fill="#e0e0e0"/>
<circle cx="15.1" cy="486" r="1.25" fill="#e0e0e0"/>
<path d="M18.1 484.2H21.7L19 491.6H15.4Z" fill="#e0e0e0"/>
</svg>
<svg width="100" height="20" style="left:0;top:478px" viewBox="0 478 100 20"><text x="24.2" y="491.7" font-family="Liberation Sans, Arial, sans-serif" font-size="10.3" fill="#d4d4d4" stroke="#d4d4d4" stroke-width="0.3" textLength="53.8" lengthAdjust="spacingAndGlyphs">TradingView</text></svg>
</body></html>
